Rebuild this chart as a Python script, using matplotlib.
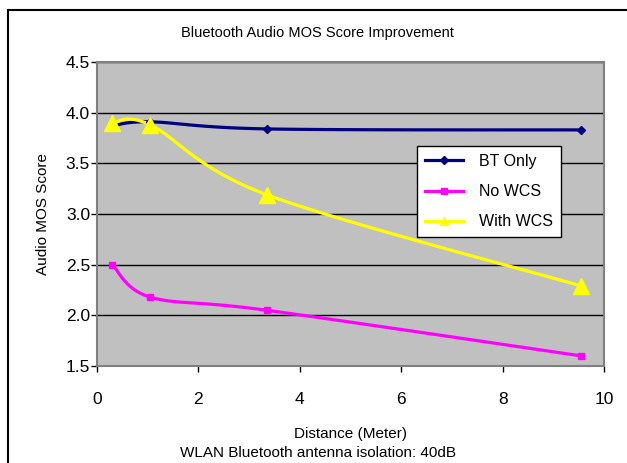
import numpy as np
import matplotlib
matplotlib.use('Agg')
import matplotlib.pyplot as plt
from matplotlib.lines import Line2D

plt.rcParams['font.family'] = ['Liberation Sans', 'DejaVu Sans']

# Measured MOS scores vs. distance
distance = [0.3, 1.05, 3.35, 9.55]
bt_only = [3.87, 3.91, 3.84, 3.83]
no_wcs = [2.50, 2.18, 2.05, 1.60]
with_wcs = [3.90, 3.88, 3.19, 2.29]

series = [
    ('BT Only', bt_only, '#000080', 'D', 4),
    ('No WCS', no_wcs, '#FF00FF', 's', 5),
    ('With WCS', with_wcs, '#FFFF00', '^', 11),
]


def smooth(xs, ys, n=40):
    # Catmull-Rom spline through the points (like a spreadsheet "smoothed line")
    p = np.column_stack([xs, ys]).astype(float)
    p = np.vstack([p[0], p, p[-1]])
    out = []
    t = np.linspace(0, 1, n)[:, None]
    for i in range(1, len(p) - 2):
        p0, p1, p2, p3 = p[i - 1], p[i], p[i + 1], p[i + 2]
        seg = 0.5 * ((2 * p1) + (-p0 + p2) * t
                     + (2 * p0 - 5 * p1 + 4 * p2 - p3) * t ** 2
                     + (-p0 + 3 * p1 - 3 * p2 + p3) * t ** 3)
        out.append(seg)
    c = np.vstack(out)
    return c[:, 0], c[:, 1]


fig = plt.figure(figsize=(6.27, 4.63), dpi=100)
ax = fig.add_axes([0.1547, 0.2095, 0.8086, 0.6565])
ax.set_facecolor('#C0C0C0')

handles = []
for name, vals, col, mk, ms in series:
    sx, sy = smooth(distance, vals)
    ax.plot(sx, sy, color=col, lw=2.3, solid_capstyle='round', zorder=3)
    ax.plot(distance, vals, ls='none', marker=mk, ms=ms, color=col,
            markeredgecolor=col, zorder=4)
    handles.append(Line2D([], [], color=col, lw=2.3, marker=mk,
                          ms=min(ms, 6), markeredgecolor=col, label=name))

ax.set_xlim(0, 10)
ax.set_ylim(1.5, 4.5)
ax.set_xticks(np.arange(0, 11, 2))
ax.set_yticks(np.arange(1.5, 4.51, 0.5))
ax.set_yticklabels([f'{v:.1f}' for v in np.arange(1.5, 4.51, 0.5)])
ax.yaxis.grid(True, color='black', lw=1)
ax.set_axisbelow(True)
ax.tick_params(direction='out', length=4, width=1, labelsize=12.5,
               color='black', pad=1)
ax.tick_params(axis='x', pad=15)
for s in ax.spines.values():
    s.set_color('#808080')
    s.set_linewidth(1.5)

ax.set_ylabel('Audio MOS Score', fontsize=11, labelpad=11)
ax.set_xlabel('Distance (Meter)', fontsize=11, labelpad=14)
fig.text(0.507, 0.006, 'WLAN Bluetooth antenna isolation: 40dB',
         ha='center', va='bottom', fontsize=11)
fig.text(0.507, 0.928, 'Bluetooth Audio MOS Score Improvement',
         ha='center', va='center', fontsize=10.5)

leg = ax.legend(handles=handles, loc='upper left',
                bbox_to_anchor=(0.631, 0.724), fontsize=11.5, frameon=True,
                fancybox=False, framealpha=1, edgecolor='black',
                borderaxespad=0, handlelength=2.4, handletextpad=1.0,
                labelspacing=0.95, borderpad=0.5)
leg.get_frame().set_linewidth(1)

# outer chart frame (left and top edges only in view)
fig.add_artist(Line2D([0.013, 0.013], [0, 0.978], color='black', lw=1.5,
                      transform=fig.transFigure))
fig.add_artist(Line2D([0.013, 1], [0.978, 0.978], color='black', lw=1.5,
                      transform=fig.transFigure))

fig.savefig('out.png', dpi=100)
